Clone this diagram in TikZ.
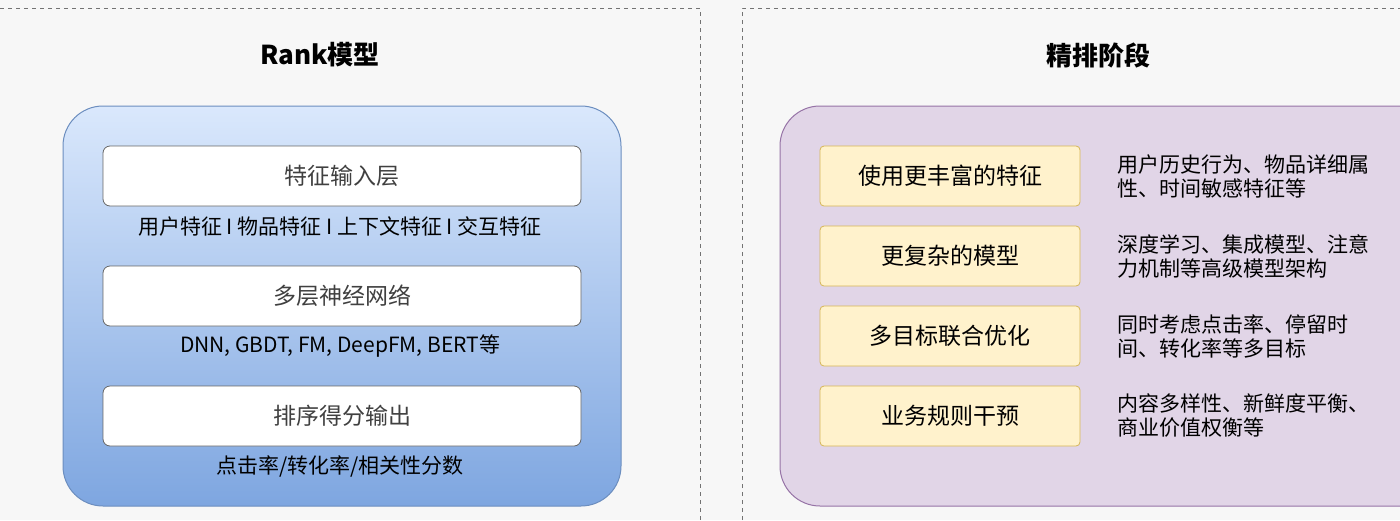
\documentclass[tikz,border=0pt]{standalone}
\usepackage{fontspec}
\setmainfont{Noto Sans CJK SC}
\definecolor{bbot}{RGB}{126,166,224}
\definecolor{btop}{RGB}{218,232,252}
\definecolor{bdr}{RGB}{108,142,191}
\definecolor{pfill}{RGB}{225,213,231}
\definecolor{pdr}{RGB}{150,115,166}
\definecolor{yfill}{RGB}{255,242,204}
\definecolor{ydr}{RGB}{214,182,86}
\begin{document}
\begin{tikzpicture}[x=1pt,y=-1pt,
  inbox/.style={draw=gray!80!black,fill=white,rounded corners=7pt,minimum width=478pt,minimum height=60pt,font=\fontsize{23}{26}\selectfont,text=black!75,line width=0.8pt},
  ybox/.style={draw=ydr,fill=yfill,rounded corners=4pt,minimum width=260pt,minimum height=60pt,font=\fontsize{23}{26}\selectfont,line width=0.8pt},
  lab/.style={font=\fontsize{21}{24}\selectfont},
  desc/.style={anchor=west,align=left,font=\fontsize{21}{24}\selectfont}]
\useasboundingbox (0,0) rectangle (1400,520);
\fill[black!3] (0,0) rectangle (1400,520);
\draw[dash pattern=on 4pt off 4pt,gray!90!black,line width=1pt] (0,8) -- (700,8) -- (700,520);
\draw[dash pattern=on 4pt off 4pt,gray!90!black,line width=1pt] (742,520) -- (742,8) -- (1400,8);
\node[font=\bfseries\fontsize{26}{30}\selectfont] (t1) at (320,55) {Rank模型};
\node[font=\bfseries\fontsize{26}{30}\selectfont] (t2) at (1098,55) {精排阶段};
\shade[top color=btop,bottom color=bbot,rounded corners=40pt] (63,106) rectangle (621,506);
\draw[bdr,line width=1pt,rounded corners=40pt] (63,106) rectangle (621,506);
\node[inbox] (a) at (342,176) {特征输入层};
\node[inbox] (b) at (342,296) {多层神经网络};
\node[inbox] (c) at (342,416) {排序得分输出};
\node[lab] (la) at (340,226) {用户特征 I 物品特征 I 上下文特征 I 交互特征};
\node[lab] (lb) at (340,346) {DNN, GBDT, FM, DeepFM, BERT等};
\node[lab] (lc) at (340,466) {点击率/转化率/相关性分数};
\draw[fill=pfill,draw=pdr,line width=1pt,rounded corners=40pt] (780,106) rectangle (1440,506);
\node[ybox] (y1) at (950,176) {使用更丰富的特征};
\node[ybox] (y2) at (950,256) {更复杂的模型};
\node[ybox] (y3) at (950,336) {多目标联合优化};
\node[ybox] (y4) at (950,416) {业务规则干预};
\node[desc] (d1) at (1114,176) {用户历史行为、物品详细属\\性、时间敏感特征等};
\node[desc] (d2) at (1114,256) {深度学习、集成模型、注意\\力机制等高级模型架构};
\node[desc] (d3) at (1114,336) {同时考虑点击率、停留时\\间、转化率等多目标};
\node[desc] (d4) at (1114,416) {内容多样性、新鲜度平衡、\\商业价值权衡等};
\end{tikzpicture}
\end{document}
